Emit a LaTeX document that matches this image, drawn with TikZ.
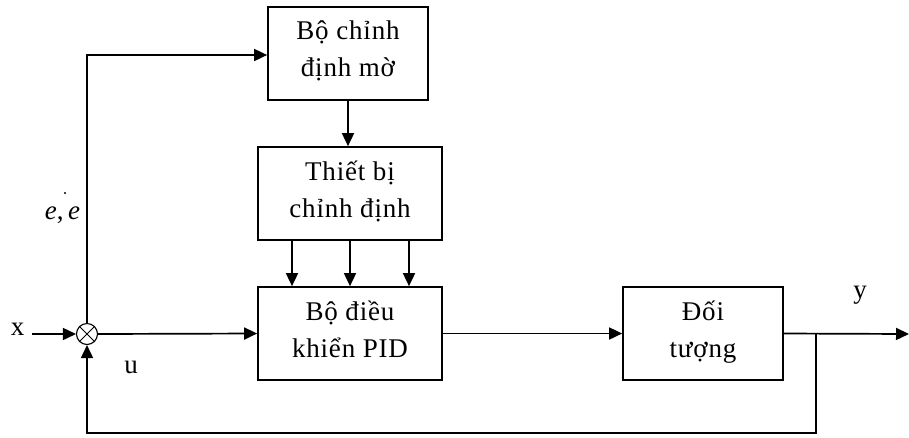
\documentclass[tikz,border=0pt]{standalone}
\usepackage{fontspec}
\setmainfont{Liberation Serif}
\newfontfamily\blockfont{Liberation Serif}[LetterSpace=3]
\usetikzlibrary{arrows.meta}
\begin{document}
\begin{tikzpicture}[x=1pt,y=-1pt,
  line width=1.7pt,
  >={Triangle[length=13pt,width=12pt]},
  block/.style={draw,line width=1.7pt,minimum width=#1,minimum height=93pt,
    align=center,inner sep=0pt,
    font=\blockfont\fontsize{27}{37}\selectfont,
    execute at begin node={\rule{0pt}{28pt}},
    execute at end node={\rule[-9pt]{0pt}{9pt}}},
  lbl/.style={font=\blockfont\fontsize{27}{30}\selectfont,inner sep=0pt,anchor=base}]
\useasboundingbox (0,0) rectangle (909,437);
% blocks
\node[block=160pt] (fuzzy) at (348,53.5) {Bộ chỉnh\\định mờ};
\node[block=184pt] (tuner) at (350,193.5) {Thiết bị\\chỉnh định};
\node[block=184pt] (pid) at (350,333.5) {Bộ điều\\khiển PID};
\node[block=160pt] (plant) at (703,333.5) {Đối\\tượng};
% summing junction
\node[draw,circle,minimum size=21pt,inner sep=0pt,line width=1.1pt] (sum) at (87,334) {};
\draw[line width=1pt] (sum.north east) -- (sum.south west) (sum.north west) -- (sum.south east);
% free ends
\coordinate (xin) at (32,334);
\coordinate (yout) at (909,334);
\coordinate (tap) at (816,334);
\coordinate (bot) at (816,433);
\coordinate (topleft) at (87,55);
% signal lines
\draw[->] (xin) -- (sum.west);
\draw[->] (sum.north) -- (topleft) -- (fuzzy.west |- topleft);
\draw[->] (fuzzy.south) -- (fuzzy.south |- tuner.north);
\foreach \dx in {-58,0,59}
  \draw[->] ([xshift=\dx pt]tuner.south) -- ([xshift=\dx pt]pid.north);
\draw[->] (sum.east) -- (pid.west);
\draw[->] (pid.east) -- (plant.west);
\draw[->] (plant.east) -- (yout);
\draw[->] (tap) -- (bot) -- (sum.south |- bot) -- (sum.south);
% labels
\node[lbl] (lx) at (17.5,335) {x};
\node[lbl] (lu) at (131,373) {u};
\node[lbl] (ly) at (860,298) {y};
\node[lbl] (le) at (63,219) {\textit{e},\,\textit{e}};
\fill (65,193) circle (1.2pt);
\end{tikzpicture}
\end{document}
